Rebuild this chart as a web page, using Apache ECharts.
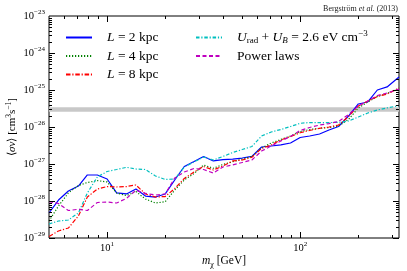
<!DOCTYPE html>
<html><head><meta charset="utf-8">
<script src="https://cdn.jsdelivr.net/npm/echarts@6/dist/echarts.min.js"></script>
<style>html,body{margin:0;padding:0;background:#fff}#c{width:407px;height:271px}</style>
</head><body><div id="c"></div>
<script>
// Dark-matter mass grid (GeV)
const masses = [5, 5.6, 6.3, 7.1, 7.9, 8.9, 10, 11.2, 12.6, 14.1, 15.8, 17.8, 20, 22.4, 25.1, 28.2, 31.6, 35.5, 39.8, 44.7, 50.1, 56.2, 63.1, 70.8, 79.4, 89.1, 100, 112, 126, 141, 158, 178, 200, 224, 251, 282, 325];
// <sigma v> limits (cm^3 s^-1)
const sigmaL2 = [4.74e-29, 1.06e-28, 1.86e-28, 2.54e-28, 5.05e-28, 5.05e-28, 3.94e-28, 1.65e-28, 1.55e-28, 2.11e-28, 1.36e-28, 1.28e-28, 1.55e-28, 3.70e-28, 8.56e-28, 1.17e-27, 1.60e-27, 1.21e-27, 1.32e-27, 1.36e-27, 1.45e-27, 1.60e-27, 2.88e-27, 3.07e-27, 3.27e-27, 3.70e-27, 5.21e-27, 5.71e-27, 6.47e-27, 8.30e-27, 1.03e-26, 1.98e-26, 4.19e-26, 4.74e-26, 1.0e-25, 1.21e-25, 2.24e-25];
const sigmaL4 = [2.88e-29, 7.33e-29, 1.65e-28, 2.62e-28, 3.17e-28, 3.55e-28, 3.27e-28, 1.65e-28, 1.40e-28, 1.80e-28, 1.13e-28, 8.83e-29, 9.57e-29, 1.98e-28, 3.70e-28, 5.54e-28, 9.40e-28, 7.65e-28, 9.70e-28, 1.15e-27, 1.36e-27, 1.60e-27, 2.71e-27, 3.70e-27, 4.60e-27, 5.71e-27, 7.47e-27, 8.56e-27, 9.22e-27, 9.70e-27, 1.06e-26, 1.60e-26, 3.27e-26, 4.74e-26, 6.68e-26, 8.04e-26, 1.10e-25];
const sigmaL8 = [1.10e-29, 1.55e-29, 1.86e-29, 3.94e-29, 1.28e-28, 2.11e-28, 2.46e-28, 2.39e-28, 2.46e-28, 2.71e-28, 1.55e-28, 1.28e-28, 1.32e-28, 2.17e-28, 4.06e-28, 6.08e-28, 8.56e-28, 6.89e-28, 8.83e-28, 1.21e-27, 1.28e-27, 1.52e-27, 2.62e-27, 3.27e-27, 4.46e-27, 5.54e-27, 7.00e-27, 8.04e-27, 9.22e-27, 1.0e-26, 1.13e-26, 1.92e-26, 3.70e-26, 5.05e-26, 6.68e-26, 7.80e-26, 1.13e-25];
const sigmaRad = [2.39e-29, 2.88e-29, 3.07e-29, 4.74e-29, 1.65e-28, 4.46e-28, 6.27e-28, 7.10e-28, 8.14e-28, 7.33e-28, 7.10e-28, 4.74e-28, 3.82e-28, 3.94e-28, 8.30e-28, 1.13e-27, 1.55e-27, 1.28e-27, 1.60e-27, 2.04e-27, 2.46e-27, 2.97e-27, 5.71e-27, 7.33e-27, 8.56e-27, 1.03e-26, 1.26e-26, 1.32e-26, 1.31e-26, 1.32e-26, 1.33e-26, 1.45e-26, 1.86e-26, 2.39e-26, 2.88e-26, 3.27e-26, 3.77e-26];
const sigmaPL = [9.57e-29, 8.56e-29, 5.54e-29, 5.97e-29, 5.54e-29, 9.11e-29, 9.40e-29, 8.83e-29, 1.18e-28, 1.95e-28, 1.60e-28, 1.45e-28, 1.55e-28, 4.19e-28, 6.08e-28, 7.56e-28, 7.10e-28, 5.71e-28, 8.30e-28, 9.40e-28, 1.10e-27, 1.28e-27, 2.24e-27, 3.07e-27, 4.19e-27, 5.54e-27, 8.04e-27, 9.70e-27, 1.13e-26, 1.24e-26, 1.40e-26, 2.17e-26, 3.70e-26, 5.05e-26, 7.10e-26, 8.30e-26, 1.06e-25];
// thermal cross-section band
const bandRange = [2.6e-26, 3.4e-26];
// axis ranges and ticks
const xRange = [5, 325];
const yRange = [1e-29, 1e-23];
const xMajorTicks = [10, 100];
const xMinorTicks = [6, 7, 8, 9, 20, 30, 40, 50, 60, 70, 80, 90, 200, 300];
const yMajorTicks = [1e-29, 1e-28, 1e-27, 1e-26, 1e-25, 1e-24];
const yMinorMult = [2, 3, 4, 5, 6, 7, 8, 9];
const yDecades = [-29, -28, -27, -26, -25, -24];

const FONT = 'Liberation Serif';
const MAJ = 6, MIN = 3;
const LFS = 13.5;
const yMinorTicks = [];
yDecades.forEach(d => yMinorMult.forEach(k => yMinorTicks.push(k * Math.pow(10, d))));

const zip = arr => masses.map((m, i) => [m, arr[i]]);
function isPow10(v){ const l = Math.log10(v); return Math.abs(l - Math.round(l)) < 1e-6; }
function powLabel(v){
  if (!(v > 0) || !isPow10(v)) return '';
  const e = Math.round(Math.log10(v));
  return '{b|10}{s|' + String(e).replace('-', '\u2212') + '}';
}
const tickRich = {
  b: {fontFamily: FONT, fontSize: 10.5, lineHeight: 14, color: '#000'},
  s: {fontFamily: FONT, fontSize: 7, lineHeight: 7, verticalAlign: 'top', color: '#000'}
};

const chart = echarts.init(document.getElementById('c'));
const legendText = {
  L2: '{i|L} = 2 kpc',
  L4: '{i|L} = 4 kpc',
  L8: '{i|L} = 8 kpc',
  Urad: '{i|U}{sub|rad} + {i|U}{subi|B} = 2.6 eV cm{sup|\u22123}',
  PL: 'Power laws'
};
const legRich = {
  i: {fontFamily: FONT, fontSize: LFS, fontStyle: 'italic', lineHeight: 16, color: '#000'},
  sub: {fontFamily: FONT, fontSize: 9, lineHeight: 10, verticalAlign: 'bottom', color: '#000'},
  subi: {fontFamily: FONT, fontSize: 9, fontStyle: 'italic', lineHeight: 10, verticalAlign: 'bottom', color: '#000'},
  sup: {fontFamily: FONT, fontSize: 9, lineHeight: 8, verticalAlign: 'top', color: '#000'},
  g: {width: 10}
};
const legendBase = {
  orient: 'vertical', itemWidth: 26, itemHeight: 14, itemGap: 2.5, top: 29.5, padding: 0,
  formatter: n => '{g|}' + legendText[n],
  itemStyle: {opacity: 0},
  textStyle: {fontFamily: FONT, fontSize: LFS, lineHeight: 16, color: '#000', rich: legRich},
  selectedMode: false
};
function lineSeries(name, arr, color, dash){
  return {
    name, type: 'line', data: zip(arr), showSymbol: false, symbol: 'none', z: 5,
    lineStyle: {color, width: 1.2, type: dash}, itemStyle: {color}
  };
}
function tickSeries(data, horiz){
  return {
    type: 'custom', silent: true, z: 6, clip: false,
    data, encode: {x: 0, y: 1},
    renderItem: function(params, api){
      const cs = params.coordSys;
      const len = api.value(2);
      const ch = [];
      if (horiz) {
        const px = Math.round(api.coord([api.value(0), yRange[0]])[0]) + 0.5;
        const b = cs.y + cs.height, t = cs.y;
        ch.push({type:'line', shape:{x1:px,y1:b,x2:px,y2:b-len}, style:{stroke:'#000',lineWidth:1}});
        ch.push({type:'line', shape:{x1:px,y1:t,x2:px,y2:t+len}, style:{stroke:'#000',lineWidth:1}});
      } else {
        const py = Math.round(api.coord([xRange[0], api.value(1)])[1]) + 0.5;
        const l = cs.x, r = cs.x + cs.width;
        ch.push({type:'line', shape:{x1:l,y1:py,x2:l+len,y2:py}, style:{stroke:'#000',lineWidth:1}});
        ch.push({type:'line', shape:{x1:r,y1:py,x2:r-len,y2:py}, style:{stroke:'#000',lineWidth:1}});
      }
      return {type:'group', children: ch};
    }
  };
}
const xTickData = xMajorTicks.map(v => [v, yRange[0], MAJ]).concat(xMinorTicks.map(v => [v, yRange[0], MIN]));
const yTickData = yMajorTicks.map(v => [xRange[0], v, MAJ]).concat(yMinorTicks.map(v => [xRange[0], v, MIN]));

chart.setOption({
  animation: false,
  backgroundColor: '#fff',
  title: {
    text: 'Bergstr\u00f6m {i|et al.} (2013)', right: 9, top: 5, padding: 0,
    textStyle: {fontFamily: FONT, fontSize: 8, fontWeight: 'normal', color: '#222',
      rich: {i: {fontFamily: FONT, fontSize: 8, fontStyle: 'italic', color: '#222'}}}
  },
  legend: [
    Object.assign({}, legendBase, {left: 65, data: ['L2', 'L4', 'L8']}),
    Object.assign({}, legendBase, {left: 195, data: ['Urad', 'PL']})
  ],
  grid: {left: 49, right: 8, top: 16, bottom: 33, show: true, borderColor: '#000', borderWidth: 1,
         backgroundColor: 'transparent', outerBoundsMode: 'none', containLabel: false},
  xAxis: {
    type: 'log', logBase: 10, min: xRange[0], max: xRange[1],
    axisLine: {show: false}, axisTick: {show: false}, splitLine: {show: false},
    axisLabel: {margin: 3, formatter: powLabel, rich: tickRich, showMinLabel: false, showMaxLabel: false},
    name: '{i|m}{sub|\u03c7} [GeV]', nameLocation: 'middle', nameGap: 15, nameMoveOverlap: false,
    nameTextStyle: {fontFamily: FONT, fontSize: 11.5, lineHeight: 16, color: '#000',
      rich: {i: {fontFamily: FONT, fontSize: 11.5, fontStyle: 'italic', lineHeight: 16, color: '#000'},
             sub: {fontFamily: FONT, fontSize: 8, lineHeight: 10, verticalAlign: 'bottom', color: '#000'}}}
  },
  yAxis: {
    // extent follows the tick data (1e-29 .. 9e-24) and is niced to whole decades: 1e-29 .. 1e-23
    type: 'log', logBase: 10, scale: false,
    axisLine: {show: false}, axisTick: {show: false}, splitLine: {show: false},
    axisLabel: {margin: 4, formatter: powLabel, rich: tickRich, showMinLabel: true, showMaxLabel: true, hideOverlap: false},
    name: '\u27e8{i|\u03c3v}\u27e9 [cm{sup|3}s{sup|\u22121}]', nameLocation: 'middle', nameGap: 29, nameMoveOverlap: false,
    nameTextStyle: {fontFamily: FONT, fontSize: 11, lineHeight: 15, color: '#000',
      rich: {i: {fontFamily: FONT, fontSize: 11, fontStyle: 'italic', lineHeight: 15, color: '#000'},
             sup: {fontFamily: FONT, fontSize: 7.5, lineHeight: 8, verticalAlign: 'top', color: '#000'}}}
  },
  series: [
    {type: 'custom', silent: true, z: 1, clip: true,
     data: [[xRange[0], bandRange[0], xRange[1], bandRange[1]]],
     encode: {x: [0, 2], y: [1, 3]},
     renderItem: function(params, api){
       const p0 = api.coord([api.value(0), api.value(1)]);
       const p1 = api.coord([api.value(2), api.value(3)]);
       return {type: 'rect', shape: {x: p0[0], y: p1[1], width: p1[0] - p0[0], height: p0[1] - p1[1]},
               style: {fill: '#c8c8c8'}};
     }},
    lineSeries('L2', sigmaL2, '#0000ff', 'solid'),
    lineSeries('L4', sigmaL4, '#008000', [1.2, 1.8]),
    lineSeries('L8', sigmaL8, '#ff0000', [4.5, 1.8, 1.2, 1.8]),
    lineSeries('Urad', sigmaRad, '#00bfbf', [3.5, 1.8, 1.2, 1.8]),
    lineSeries('PL', sigmaPL, '#bf00bf', [4, 2.5]),
    tickSeries(xTickData, true),
    tickSeries(yTickData, false)
  ]
});
</script></body></html>
